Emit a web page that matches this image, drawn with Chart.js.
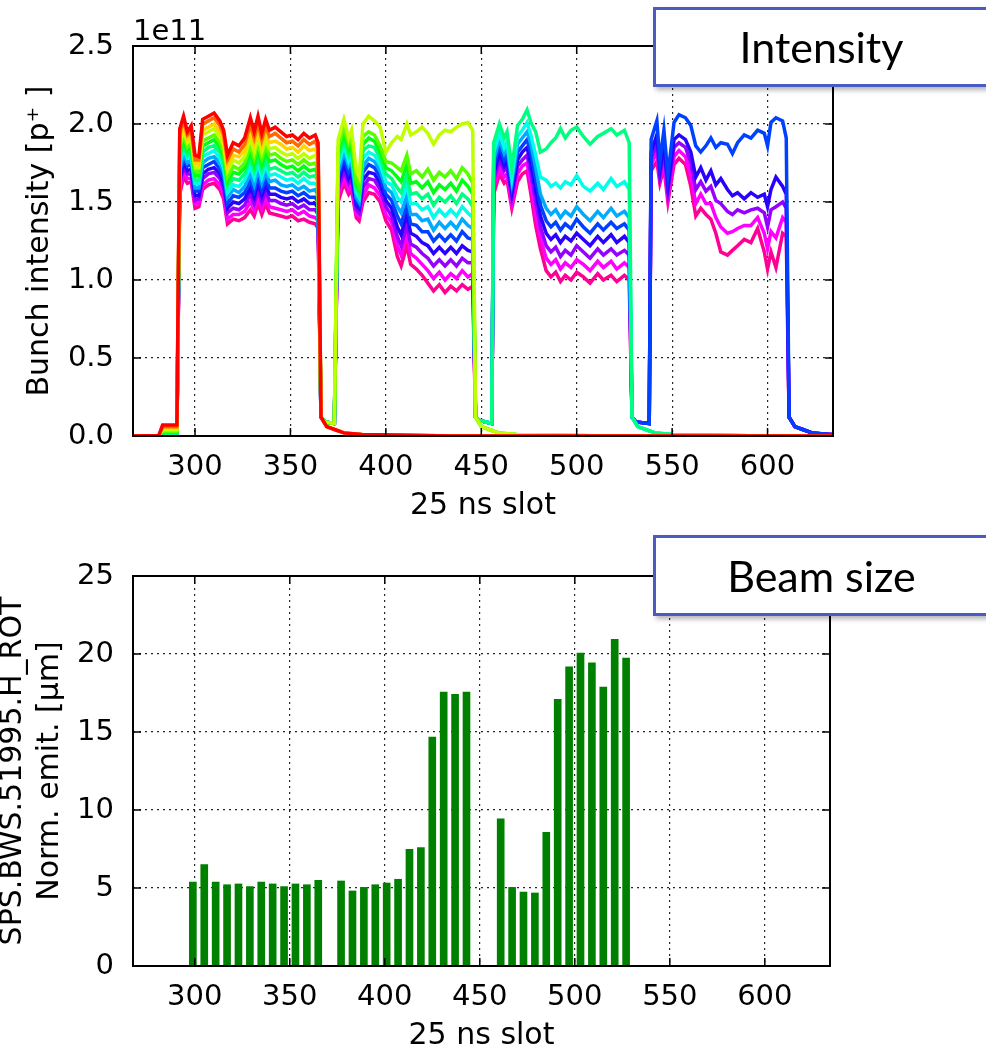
<!DOCTYPE html>
<html>
<head>
<meta charset="utf-8">
<script src="https://cdn.jsdelivr.net/npm/chart.js@4.4.0/dist/chart.umd.min.js"></script>
<style>
  html, body { margin: 0; padding: 0; background: #fff; }
  body { width: 986px; height: 1051px; position: relative; overflow: hidden; }
  canvas { position: absolute; left: 0; }
  #intensityChart { top: 0; }
  #emitChart { top: 525px; }
  .tag {
    position: absolute; left: 653px; width: 337px; box-sizing: border-box;
    border: 3px solid #4a5cc2; background: #fff;
    box-shadow: 3px 3px 5px rgba(0, 0, 0, 0.3);
    font-family: Lato, 'Open Sans', sans-serif; font-size: 43px;
    text-align: center; color: #000;
  }
  #tagIntensity { top: 7px; height: 80px; line-height: 74px; }
  #tagBeam { top: 535px; height: 81px; line-height: 75px; }
</style>
</head>
<body>
<canvas id="intensityChart" width="986" height="521"></canvas>
<canvas id="emitChart" width="986" height="526"></canvas>
<div class="tag" id="tagIntensity">Intensity</div>
<div class="tag" id="tagBeam">Beam size</div>
<script>
// ---- intensity profiles (1e11 p+), one row per acquisition, per PS batch ----
const slotTicks = [300, 350, 400, 450, 500, 550, 600];
const intensityTicks = [0, 0.5, 1.0, 1.5, 2.0, 2.5];

const batch1Slots = [292, 294, 296, 298, 300, 302, 304, 307, 310, 313, 315, 317, 320, 323, 326, 329, 331, 333, 335, 337, 339, 342, 345, 348, 351, 354, 357, 360, 363, 364.5];
const batch2Slots = [375, 378, 380.5, 382, 384.5, 386, 388, 391, 394, 397, 400, 403, 406, 408, 411, 413, 416, 419, 422, 425, 428, 431, 434, 437, 440, 443, 445.5];
const batch3Slots = [456.5, 459.5, 462, 463.5, 466, 469, 471.5, 474, 476, 478.5, 481, 484, 486.5, 489, 491.5, 494, 497, 500, 503.5, 507, 511, 514, 518, 521, 525, 527.5];
const batch4Slots = [539, 542, 543.6, 545.7, 547.8, 551, 553.6, 557, 559.8, 562.4, 565, 567.7, 570.3, 572.9, 575.5, 579, 581.6, 584.3, 587.8, 591.3, 594.8, 598.3, 600, 601.8, 604.4, 607.9, 609.8];

// acquisition index at which each batch first shows up
const batchFirstProfile = [0, 3, 6, 9];

const batch1Intensity = [
  [1.97, 2.05, 1.95, 1.99, 1.80, 1.79, 2.03, 2.05, 2.07, 2.02, 1.96, 1.80, 1.88, 1.86, 1.91, 2.04, 1.95, 2.05, 1.94, 2.03, 1.96, 1.98, 1.95, 1.92, 1.93, 1.90, 1.94, 1.91, 1.93, 1.88],
  [1.94, 2.02, 1.93, 1.96, 1.77, 1.77, 2.00, 2.02, 2.04, 1.99, 1.93, 1.77, 1.84, 1.82, 1.87, 2.00, 1.91, 2.01, 1.90, 1.99, 1.92, 1.94, 1.91, 1.88, 1.89, 1.86, 1.90, 1.87, 1.89, 1.84],
  [1.91, 1.99, 1.90, 1.93, 1.75, 1.74, 1.96, 1.98, 2.00, 1.95, 1.89, 1.73, 1.80, 1.79, 1.83, 1.95, 1.87, 1.96, 1.86, 1.95, 1.88, 1.89, 1.87, 1.84, 1.85, 1.82, 1.86, 1.83, 1.84, 1.80],
  [1.87, 1.96, 1.88, 1.91, 1.72, 1.72, 1.93, 1.95, 1.97, 1.92, 1.86, 1.70, 1.77, 1.75, 1.79, 1.91, 1.82, 1.92, 1.82, 1.90, 1.84, 1.85, 1.82, 1.80, 1.81, 1.78, 1.81, 1.78, 1.80, 1.75],
  [1.84, 1.93, 1.85, 1.88, 1.70, 1.69, 1.89, 1.91, 1.93, 1.88, 1.82, 1.66, 1.73, 1.71, 1.75, 1.86, 1.78, 1.88, 1.78, 1.86, 1.80, 1.81, 1.78, 1.76, 1.77, 1.74, 1.77, 1.74, 1.75, 1.71],
  [1.81, 1.90, 1.83, 1.85, 1.67, 1.67, 1.86, 1.88, 1.90, 1.85, 1.79, 1.63, 1.69, 1.68, 1.72, 1.82, 1.74, 1.84, 1.74, 1.82, 1.76, 1.77, 1.74, 1.72, 1.73, 1.70, 1.73, 1.70, 1.71, 1.67],
  [1.78, 1.87, 1.80, 1.82, 1.64, 1.64, 1.82, 1.85, 1.86, 1.82, 1.76, 1.60, 1.65, 1.64, 1.68, 1.77, 1.70, 1.79, 1.70, 1.78, 1.71, 1.72, 1.70, 1.68, 1.69, 1.66, 1.69, 1.66, 1.67, 1.63],
  [1.75, 1.84, 1.78, 1.79, 1.62, 1.62, 1.79, 1.81, 1.83, 1.78, 1.72, 1.56, 1.61, 1.60, 1.64, 1.73, 1.66, 1.75, 1.66, 1.74, 1.67, 1.68, 1.66, 1.64, 1.65, 1.62, 1.65, 1.62, 1.62, 1.59],
  [1.71, 1.81, 1.75, 1.77, 1.59, 1.59, 1.75, 1.78, 1.79, 1.75, 1.69, 1.53, 1.58, 1.56, 1.60, 1.68, 1.61, 1.71, 1.62, 1.69, 1.63, 1.64, 1.61, 1.60, 1.61, 1.58, 1.60, 1.57, 1.58, 1.54],
  [1.68, 1.78, 1.73, 1.74, 1.57, 1.57, 1.72, 1.74, 1.76, 1.71, 1.65, 1.49, 1.54, 1.53, 1.56, 1.64, 1.57, 1.66, 1.58, 1.65, 1.59, 1.59, 1.57, 1.56, 1.57, 1.54, 1.56, 1.53, 1.53, 1.50],
  [1.65, 1.75, 1.70, 1.71, 1.54, 1.54, 1.68, 1.71, 1.72, 1.68, 1.62, 1.46, 1.50, 1.49, 1.52, 1.59, 1.53, 1.62, 1.54, 1.61, 1.55, 1.55, 1.53, 1.52, 1.53, 1.50, 1.52, 1.49, 1.49, 1.46],
  [1.62, 1.72, 1.68, 1.68, 1.51, 1.52, 1.65, 1.68, 1.69, 1.65, 1.59, 1.43, 1.46, 1.45, 1.48, 1.55, 1.49, 1.58, 1.50, 1.57, 1.51, 1.51, 1.49, 1.48, 1.49, 1.46, 1.48, 1.45, 1.45, 1.42],
  [1.59, 1.69, 1.65, 1.65, 1.49, 1.49, 1.61, 1.64, 1.65, 1.61, 1.55, 1.39, 1.42, 1.42, 1.44, 1.50, 1.45, 1.53, 1.46, 1.53, 1.47, 1.46, 1.45, 1.44, 1.45, 1.42, 1.44, 1.41, 1.40, 1.38],
  [1.55, 1.66, 1.62, 1.63, 1.46, 1.47, 1.58, 1.61, 1.62, 1.58, 1.52, 1.36, 1.39, 1.38, 1.40, 1.45, 1.41, 1.49, 1.42, 1.49, 1.43, 1.42, 1.41, 1.40, 1.41, 1.38, 1.39, 1.37, 1.36, 1.33]
];

const batch2Intensity = [
  [1.90, 2.03, 1.91, 1.96, 1.70, 1.66, 2.00, 2.05, 2.02, 1.98, 1.82, 1.88, 1.92, 1.90, 2.00, 1.93, 1.95, 1.98, 1.94, 1.87, 1.93, 1.96, 1.95, 1.98, 2.00, 2.01, 1.96],
  [1.85, 1.98, 1.87, 1.91, 1.64, 1.60, 1.92, 1.95, 1.93, 1.86, 1.76, 1.75, 1.72, 1.70, 1.80, 1.68, 1.70, 1.66, 1.71, 1.64, 1.69, 1.66, 1.70, 1.65, 1.72, 1.68, 1.62],
  [1.81, 1.94, 1.83, 1.87, 1.61, 1.58, 1.87, 1.91, 1.89, 1.82, 1.72, 1.70, 1.66, 1.63, 1.74, 1.62, 1.63, 1.59, 1.63, 1.56, 1.61, 1.58, 1.62, 1.57, 1.64, 1.60, 1.55],
  [1.77, 1.90, 1.80, 1.84, 1.59, 1.55, 1.83, 1.86, 1.85, 1.78, 1.68, 1.65, 1.59, 1.56, 1.67, 1.55, 1.56, 1.52, 1.55, 1.48, 1.53, 1.50, 1.54, 1.49, 1.55, 1.52, 1.47],
  [1.73, 1.86, 1.76, 1.80, 1.56, 1.53, 1.78, 1.82, 1.80, 1.74, 1.63, 1.61, 1.53, 1.50, 1.61, 1.49, 1.49, 1.45, 1.47, 1.40, 1.45, 1.41, 1.45, 1.41, 1.47, 1.43, 1.40],
  [1.69, 1.82, 1.73, 1.76, 1.53, 1.50, 1.73, 1.78, 1.76, 1.70, 1.59, 1.56, 1.47, 1.43, 1.54, 1.42, 1.42, 1.38, 1.39, 1.32, 1.37, 1.33, 1.37, 1.33, 1.39, 1.35, 1.33],
  [1.66, 1.78, 1.69, 1.73, 1.51, 1.48, 1.69, 1.74, 1.72, 1.66, 1.55, 1.51, 1.41, 1.36, 1.48, 1.36, 1.35, 1.31, 1.31, 1.25, 1.29, 1.25, 1.29, 1.25, 1.31, 1.27, 1.26],
  [1.62, 1.74, 1.65, 1.69, 1.48, 1.46, 1.64, 1.69, 1.68, 1.62, 1.51, 1.46, 1.34, 1.29, 1.42, 1.30, 1.28, 1.24, 1.22, 1.17, 1.21, 1.17, 1.21, 1.17, 1.22, 1.19, 1.18],
  [1.58, 1.70, 1.62, 1.65, 1.45, 1.43, 1.59, 1.65, 1.64, 1.58, 1.47, 1.41, 1.28, 1.22, 1.35, 1.23, 1.21, 1.17, 1.14, 1.09, 1.13, 1.09, 1.13, 1.09, 1.14, 1.11, 1.11],
  [1.54, 1.66, 1.58, 1.61, 1.42, 1.41, 1.54, 1.61, 1.59, 1.54, 1.42, 1.37, 1.22, 1.16, 1.29, 1.17, 1.14, 1.10, 1.06, 1.01, 1.05, 1.00, 1.04, 1.01, 1.06, 1.02, 1.04],
  [1.50, 1.62, 1.55, 1.58, 1.40, 1.38, 1.50, 1.56, 1.55, 1.50, 1.38, 1.32, 1.15, 1.09, 1.22, 1.10, 1.07, 1.03, 0.98, 0.93, 0.97, 0.92, 0.96, 0.93, 0.97, 0.94, 0.96]
];

const batch3Intensity = [
  [1.88, 2.00, 1.91, 1.95, 1.72, 1.99, 2.03, 2.09, 2.01, 1.95, 1.82, 1.84, 1.88, 1.91, 1.97, 1.91, 1.96, 1.98, 1.92, 1.87, 1.92, 1.94, 1.97, 1.93, 1.96, 1.88],
  [1.82, 1.94, 1.85, 1.89, 1.66, 1.92, 1.96, 2.01, 1.93, 1.80, 1.66, 1.64, 1.60, 1.62, 1.59, 1.63, 1.61, 1.67, 1.60, 1.57, 1.62, 1.58, 1.65, 1.60, 1.63, 1.58],
  [1.77, 1.90, 1.81, 1.85, 1.63, 1.87, 1.91, 1.95, 1.87, 1.72, 1.55, 1.46, 1.42, 1.45, 1.40, 1.44, 1.41, 1.47, 1.42, 1.38, 1.44, 1.40, 1.46, 1.41, 1.44, 1.40],
  [1.73, 1.86, 1.77, 1.81, 1.60, 1.82, 1.86, 1.90, 1.81, 1.65, 1.48, 1.38, 1.34, 1.37, 1.32, 1.36, 1.33, 1.39, 1.34, 1.30, 1.36, 1.32, 1.37, 1.33, 1.36, 1.32],
  [1.68, 1.81, 1.73, 1.77, 1.56, 1.77, 1.82, 1.85, 1.74, 1.57, 1.41, 1.30, 1.26, 1.29, 1.24, 1.28, 1.25, 1.30, 1.26, 1.22, 1.28, 1.24, 1.29, 1.24, 1.28, 1.24],
  [1.64, 1.77, 1.70, 1.72, 1.53, 1.73, 1.77, 1.80, 1.68, 1.50, 1.34, 1.22, 1.18, 1.21, 1.15, 1.19, 1.16, 1.22, 1.18, 1.14, 1.20, 1.16, 1.20, 1.16, 1.19, 1.16],
  [1.59, 1.72, 1.66, 1.68, 1.49, 1.68, 1.73, 1.75, 1.61, 1.42, 1.27, 1.14, 1.10, 1.13, 1.07, 1.11, 1.08, 1.13, 1.10, 1.06, 1.12, 1.08, 1.12, 1.07, 1.11, 1.08],
  [1.55, 1.68, 1.62, 1.64, 1.46, 1.63, 1.68, 1.70, 1.55, 1.35, 1.20, 1.06, 1.02, 1.05, 0.99, 1.03, 1.00, 1.05, 1.02, 0.98, 1.04, 1.00, 1.03, 0.99, 1.03, 1.00]
];

const batch4Intensity = [
  [1.90, 2.02, 1.76, 1.96, 1.67, 2.01, 2.06, 2.04, 1.99, 1.86, 1.82, 1.86, 1.91, 1.85, 1.88, 1.87, 1.81, 1.88, 1.93, 1.91, 1.96, 1.94, 1.86, 2.01, 2.04, 2.02, 1.91],
  [1.82, 1.93, 1.70, 1.88, 1.60, 1.90, 1.93, 1.90, 1.82, 1.66, 1.72, 1.64, 1.70, 1.61, 1.65, 1.58, 1.54, 1.56, 1.52, 1.56, 1.53, 1.55, 1.47, 1.58, 1.66, 1.60, 1.55],
  [1.78, 1.87, 1.67, 1.83, 1.57, 1.85, 1.88, 1.85, 1.75, 1.58, 1.63, 1.57, 1.60, 1.51, 1.49, 1.44, 1.42, 1.45, 1.43, 1.45, 1.46, 1.43, 1.34, 1.45, 1.47, 1.50, 1.46],
  [1.74, 1.82, 1.65, 1.77, 1.53, 1.79, 1.83, 1.79, 1.67, 1.49, 1.55, 1.49, 1.49, 1.40, 1.34, 1.30, 1.31, 1.33, 1.35, 1.35, 1.40, 1.30, 1.20, 1.31, 1.27, 1.40, 1.37],
  [1.70, 1.76, 1.62, 1.72, 1.50, 1.74, 1.78, 1.74, 1.60, 1.41, 1.46, 1.42, 1.39, 1.30, 1.18, 1.16, 1.19, 1.22, 1.26, 1.24, 1.33, 1.18, 1.07, 1.18, 1.08, 1.30, 1.28]
];

// small ghost level seen just before each batch, and the decay after it
const ghostSlots = [[283, 290.5], [368, 373], [449, 455.5], [531, 538]];
const batch1Ghost = [0.07, 0.06, 0.05, 0.04, 0.03, 0.025, 0.02, 0.02, 0.015, 0.015, 0.01, 0.01, 0.01, 0.01];
const laterGhost = [[0.09, 0.08], [0.10, 0.08], [0.09, 0.08]];
const tailOffsets = [1.5, 4.5, 9, 13.5, 23, 55, 70];
const tailLevels = [0.12, 0.06, 0.04, 0.02, 0.01, 0.003, 0];

// ---- wire scanner: normalised emittance per scanned bunch ----
const emitTicks = [0, 5, 10, 15, 20, 25];
const scanSlots = [299, 305, 311, 317, 323, 329, 335, 341, 347, 353, 359, 365,
                   377, 383, 389, 395, 401, 407, 413, 419, 425, 431, 437, 443,
                   461, 467, 473, 479, 485, 491, 497, 503, 509, 515, 521, 527];
const normEmit = [5.38, 6.50, 5.38, 5.21, 5.26, 5.09, 5.38, 5.26, 5.09, 5.26, 5.21, 5.49,
                  5.45, 4.81, 5.04, 5.21, 5.32, 5.56, 7.48, 7.59, 14.68, 17.56, 17.41, 17.56,
                  9.44, 5.04, 4.74, 4.68, 8.57, 17.09, 19.17, 20.06, 19.44, 17.88, 20.94, 19.74];

// line colours follow the acquisition order (hsv map)
const profileHues = [0, 25, 50, 75, 100, 125, 150, 175, 200, 225, 250, 275, 300, 325];

const batchSlots = [batch1Slots, batch2Slots, batch3Slots, batch4Slots];
const batchRows = [batch1Intensity, batch2Intensity, batch3Intensity, batch4Intensity];
const X_MIN = 267.5, X_MAX = 634.3;

function profilePoints(p) {
  const pts = [{ x: X_MIN, y: 0 }, { x: 281, y: 0.003 }];
  for (let b = 0; b < 4; b++) {
    const first = batchFirstProfile[b];
    if (p < first) continue;
    const ghost = b === 0 ? [batch1Ghost[p], batch1Ghost[p]] : laterGhost[b - 1];
    ghostSlots[b].forEach((s, i) => pts.push({ x: s, y: ghost[i] }));
    const slots = batchSlots[b];
    batchRows[b][p - first].forEach((v, i) => pts.push({ x: slots[i], y: v }));
    const end = slots[slots.length - 1];
    const nextStart = (b < 3 && p >= batchFirstProfile[b + 1]) ? ghostSlots[b + 1][0] : Infinity;
    tailOffsets.forEach((o, i) => {
      if (end + o < nextStart) pts.push({ x: end + o, y: tailLevels[i] });
    });
  }
  if (pts[pts.length - 1].x < X_MAX) pts.push({ x: X_MAX, y: 0 });
  return pts;
}

const FONT = "'DejaVu Sans', sans-serif";
Chart.defaults.font.family = FONT;
Chart.defaults.color = '#000';

// black frame with inward ticks on all four sides, drawn over the data
const frameTicks = {
  id: 'frameTicks',
  afterDatasetsDraw(chart) {
    const { ctx, chartArea: a, scales } = chart;
    ctx.save();
    ctx.strokeStyle = '#000';
    ctx.lineWidth = 1.5;
    ctx.beginPath();
    scales.x.ticks.forEach(t => {
      const px = scales.x.getPixelForValue(t.value);
      ctx.moveTo(px, a.bottom); ctx.lineTo(px, a.bottom - 8);
      ctx.moveTo(px, a.top); ctx.lineTo(px, a.top + 8);
    });
    scales.y.ticks.forEach(t => {
      const py = scales.y.getPixelForValue(t.value);
      ctx.moveTo(a.left, py); ctx.lineTo(a.left + 8, py);
      ctx.moveTo(a.right, py); ctx.lineTo(a.right - 8, py);
    });
    ctx.stroke();
    ctx.lineWidth = 2;
    ctx.strokeRect(a.left, a.top, a.right - a.left, a.bottom - a.top);
    ctx.restore();
  }
};

const offsetLabel = {
  id: 'offsetLabel',
  afterDraw(chart) {
    const { ctx, chartArea: a } = chart;
    ctx.save();
    ctx.font = "29px " + FONT;
    ctx.fillStyle = '#000';
    ctx.textBaseline = 'alphabetic';
    ctx.fillText('1e11', a.left, 40);
    ctx.restore();
  }
};

function slotAxis() {
  return {
    type: 'linear', min: X_MIN, max: X_MAX, offset: false,
    afterBuildTicks: s => { s.ticks = slotTicks.map(v => ({ value: v })); },
    afterFit: s => { s.height = 85; },
    grid: { color: 'rgba(0,0,0,0.85)', lineWidth: 1.2, drawTicks: false, offset: false, borderDash: [2, 4] },
    border: { display: false, dash: [2, 4] },
    ticks: { font: { size: 29, lineHeight: 1.2 }, padding: 14, maxRotation: 0, autoSkip: false },
    title: { display: true, text: '25 ns slot', font: { size: 30, lineHeight: 1.0 }, padding: { top: 0, bottom: 0 } }
  };
}

new Chart(document.getElementById('intensityChart'), {
  type: 'line',
  data: {
    datasets: profileHues.map((h, p) => ({
      data: profilePoints(p),
      borderColor: `hsl(${h}, 100%, 50%)`,
      borderWidth: 3.5,
      pointRadius: 0,
      tension: 0,
      fill: false
    }))
  },
  options: {
    responsive: false,
    animation: false,
    layout: { padding: { left: 0, top: 46, right: 153, bottom: 0 } },
    plugins: { legend: { display: false }, tooltip: { enabled: false } },
    scales: {
      x: slotAxis(),
      y: {
        min: 0, max: 2.5,
        afterBuildTicks: s => { s.ticks = intensityTicks.map(v => ({ value: v })); },
        afterFit: s => { s.width = 133; },
        grid: { color: 'rgba(0,0,0,0.85)', lineWidth: 1.2, drawTicks: false, borderDash: [2, 4] },
        border: { display: false, dash: [2, 4] },
        ticks: { font: { size: 29, lineHeight: 1.2 }, padding: 19, callback: v => v.toFixed(1) },
        title: { display: true, text: 'Bunch intensity [p\u207A ]', font: { size: 30, lineHeight: 1.2 }, padding: { top: 22, bottom: 0 } }
      }
    }
  },
  plugins: [frameTicks, offsetLabel]
});

new Chart(document.getElementById('emitChart'), {
  type: 'bar',
  data: {
    datasets: [{
      data: scanSlots.map((s, i) => ({ x: s, y: normEmit[i] })),
      backgroundColor: '#008000',
      borderWidth: 0,
      barThickness: 7
    }]
  },
  options: {
    responsive: false,
    animation: false,
    layout: { padding: { left: 0, top: 51, right: 156, bottom: 0 } },
    plugins: { legend: { display: false }, tooltip: { enabled: false } },
    scales: {
      x: slotAxis(),
      y: {
        min: 0, max: 25,
        afterBuildTicks: s => { s.ticks = emitTicks.map(v => ({ value: v })); },
        afterFit: s => { s.width = 133; },
        grid: { color: 'rgba(0,0,0,0.85)', lineWidth: 1.2, drawTicks: false, borderDash: [2, 4] },
        border: { display: false, dash: [2, 4] },
        ticks: { font: { size: 29, lineHeight: 1.2 }, padding: 19, callback: v => String(v) },
        title: {
          display: true,
          text: ['SPS.BWS.51995.H_ROT', 'Norm. emit. [\u03BCm]'],
          font: { size: 30, lineHeight: 1.25 },
          padding: { top: -6, bottom: 0 }
        }
      }
    }
  },
  plugins: [frameTicks]
});
</script>
</body>
</html>
